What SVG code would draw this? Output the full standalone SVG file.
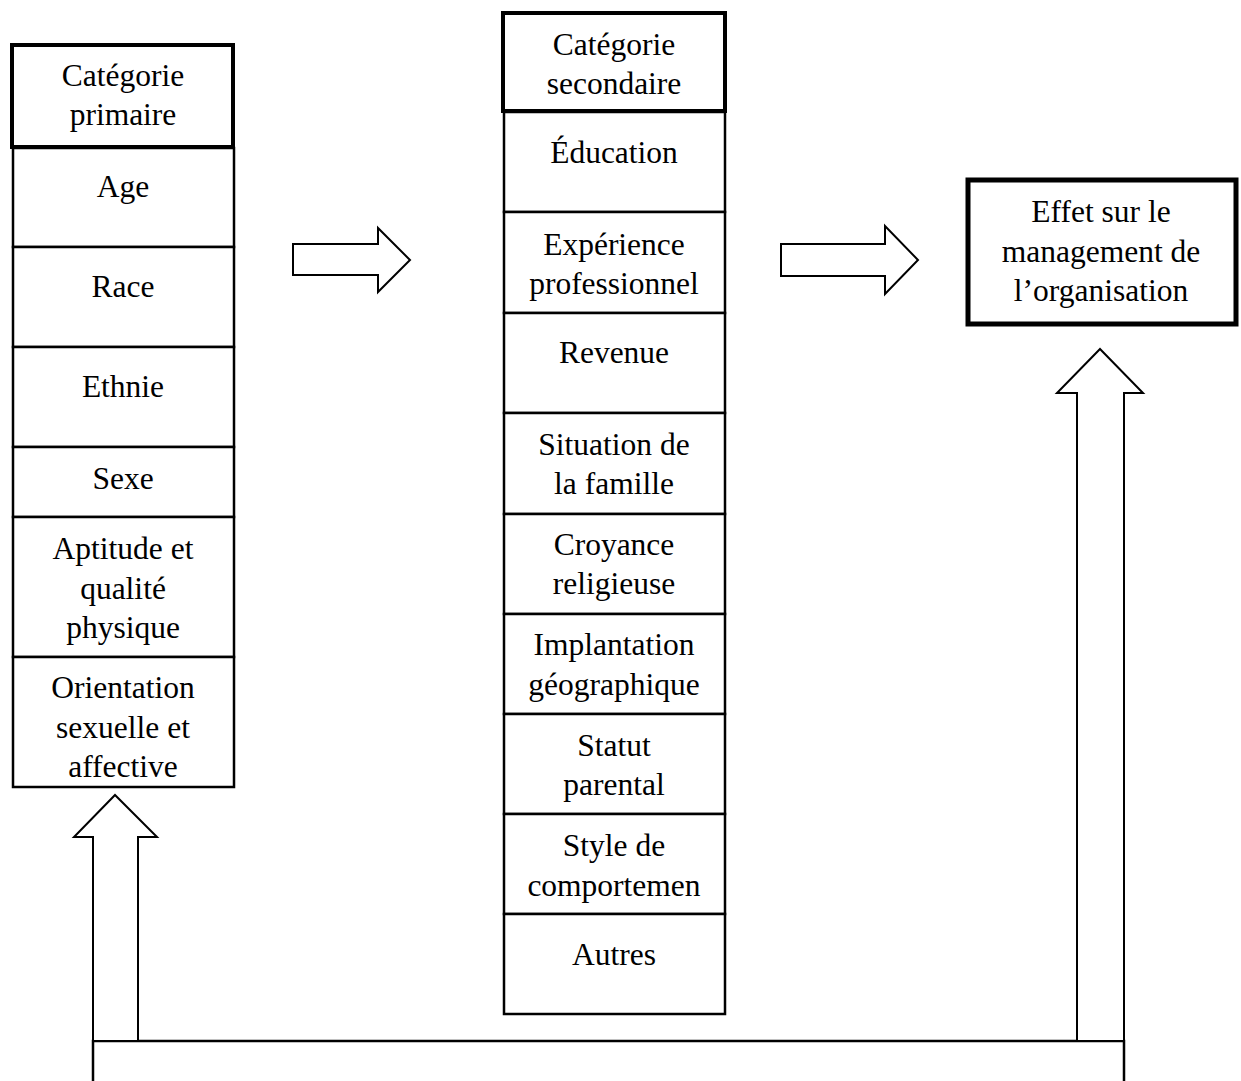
<svg xmlns="http://www.w3.org/2000/svg" width="1241" height="1081" viewBox="0 0 1241 1081">
<style>
text{font-family:"Liberation Serif","Times New Roman",serif;font-size:31.5px;fill:#000;text-anchor:middle}
.cell{fill:#fff;stroke:#000;stroke-width:2.5}
.head{fill:#fff;stroke:#000;stroke-width:4}
.big{fill:#fff;stroke:#000;stroke-width:5}
.arr{fill:#fff;stroke:#000;stroke-width:2;stroke-linejoin:miter}
.ln{fill:none;stroke:#000;stroke-width:2.5}
</style>
<rect width="1241" height="1081" fill="#fff"/>
<g id="connectors">
<path class="ln" d="M93,1081 V1041 H1124 V1081"/>
<polygon class="arr" points="93,1041 93,837 74,837 115,795 157,837 138,837 138,1041"/>
<polygon class="arr" points="1077,1041 1077,393 1057,393 1100,349 1143,393 1124,393 1124,1041"/>
<polygon class="arr" points="293,244 378,244 378,228 410,260 378,292 378,275 293,275"/>
<polygon class="arr" points="781,244 885,244 885,226 918,260 885,294 885,276 781,276"/>
</g>
<g id="primary">
<g id="p-age"><rect class="cell" x="13" y="148" width="221" height="99"/><text x="123" y="197">Age</text></g>
<g id="p-race"><rect class="cell" x="13" y="247" width="221" height="100"/><text x="123" y="297">Race</text></g>
<g id="p-ethnie"><rect class="cell" x="13" y="347" width="221" height="100"/><text x="123" y="397">Ethnie</text></g>
<g id="p-sexe"><rect class="cell" x="13" y="447" width="221" height="70"/><text x="123" y="489">Sexe</text></g>
<g id="p-aptitude"><rect class="cell" x="13" y="517" width="221" height="140"/><text x="123" y="559">Aptitude et</text><text x="123" y="599">qualité</text><text x="123" y="638">physique</text></g>
<g id="p-orientation"><rect class="cell" x="13" y="657" width="221" height="130"/><text x="123" y="698">Orientation</text><text x="123" y="738">sexuelle et</text><text x="123" y="777">affective</text></g>
<g id="p-header"><rect class="head" x="12" y="45" width="221" height="102"/><text x="123" y="86">Catégorie</text><text x="123" y="125">primaire</text></g>
</g>
<g id="secondary">
<g id="s-education"><rect class="cell" x="504" y="112" width="221" height="100"/><text x="614" y="163">Éducation</text></g>
<g id="s-experience"><rect class="cell" x="504" y="212" width="221" height="101"/><text x="614" y="255">Expérience</text><text x="614" y="294">professionnel</text></g>
<g id="s-revenue"><rect class="cell" x="504" y="313" width="221" height="100"/><text x="614" y="363">Revenue</text></g>
<g id="s-famille"><rect class="cell" x="504" y="413" width="221" height="101"/><text x="614" y="455">Situation de</text><text x="614" y="494">la famille</text></g>
<g id="s-croyance"><rect class="cell" x="504" y="514" width="221" height="100"/><text x="614" y="555">Croyance</text><text x="614" y="594">religieuse</text></g>
<g id="s-implantation"><rect class="cell" x="504" y="614" width="221" height="100"/><text x="614" y="655">Implantation</text><text x="614" y="695">géographique</text></g>
<g id="s-statut"><rect class="cell" x="504" y="714" width="221" height="100"/><text x="614" y="756">Statut</text><text x="614" y="795">parental</text></g>
<g id="s-style"><rect class="cell" x="504" y="814" width="221" height="100"/><text x="614" y="856">Style de</text><text x="614" y="896">comportemen</text></g>
<g id="s-autres"><rect class="cell" x="504" y="914" width="221" height="100"/><text x="614" y="965">Autres</text></g>
<g id="s-header"><rect class="head" x="503" y="13" width="222" height="98"/><text x="614" y="55">Catégorie</text><text x="614" y="94">secondaire</text></g>
</g>
<g id="effet"><rect class="big" x="968" y="180" width="268" height="144"/><text x="1101" y="222">Effet sur le</text><text x="1101" y="262">management de</text><text x="1101" y="301">l’organisation</text></g>
</svg>
